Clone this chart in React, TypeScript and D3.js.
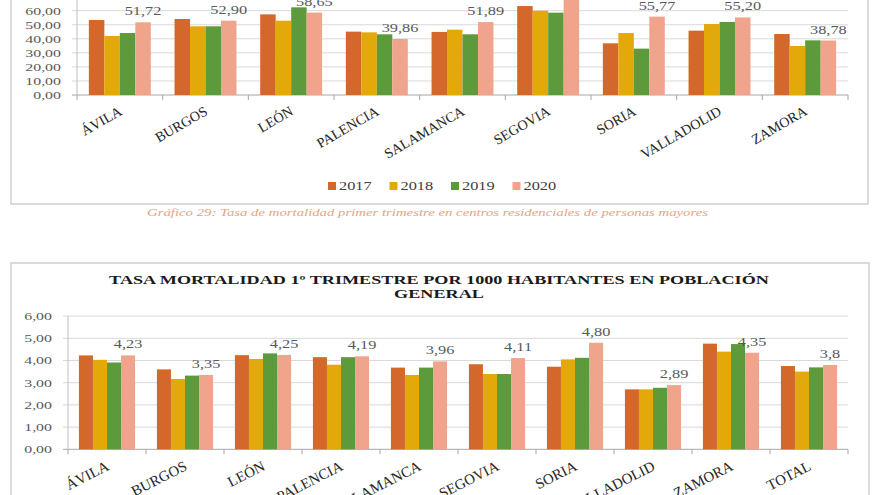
import React from "react";
import * as d3 from "d3";

const years = ["2017", "2018", "2019", "2020"];
const colors = ["#D4682A", "#E3A90A", "#5D9A3C", "#EFA48B"];

const provincesTop = ["ÁVILA", "BURGOS", "LEÓN", "PALENCIA", "SALAMANCA", "SEGOVIA", "SORIA", "VALLADOLID", "ZAMORA"];
const top2017 = [53.4, 54.1, 57.4, 45.1, 44.9, 63.3, 36.8, 45.8, 43.4];
const top2018 = [42.0, 48.9, 52.9, 44.6, 46.5, 60.0, 44.1, 50.5, 34.9];
const top2019 = [44.1, 48.9, 62.4, 43.2, 43.2, 58.6, 33.0, 52.0, 38.9];
const top2020 = [51.72, 52.9, 58.65, 39.86, 51.89, 70.5, 55.77, 55.2, 38.78];
const topLabels = ["51,72", "52,90", "58,65", "39,86", "51,89", "70,50", "55,77", "55,20", "38,78"];
const topTicks = [0, 10, 20, 30, 40, 50, 60];
const topTickLabels = ["0,00", "10,00", "20,00", "30,00", "40,00", "50,00", "60,00"];

const provincesBottom = ["ÁVILA", "BURGOS", "LEÓN", "PALENCIA", "SALAMANCA", "SEGOVIA", "SORIA", "VALLADOLID", "ZAMORA", "TOTAL"];
const bot2017 = [4.23, 3.6, 4.24, 4.15, 3.68, 3.83, 3.72, 2.7, 4.76, 3.75];
const bot2018 = [4.03, 3.17, 4.07, 3.81, 3.35, 3.39, 4.05, 2.7, 4.4, 3.5];
const bot2019 = [3.91, 3.32, 4.32, 4.15, 3.68, 3.39, 4.12, 2.77, 4.74, 3.69];
const bot2020 = [4.23, 3.35, 4.25, 4.19, 3.96, 4.11, 4.8, 2.89, 4.35, 3.8];
const botLabels = ["4,23", "3,35", "4,25", "4,19", "3,96", "4,11", "4,80", "2,89", "4,35", "3,8"];
const botTicks = [0, 1, 2, 3, 4, 5, 6];
const botTickLabels = ["0,00", "1,00", "2,00", "3,00", "4,00", "5,00", "6,00"];

const titleLines = ["TASA MORTALIDAD 1º TRIMESTRE POR 1000 HABITANTES EN POBLACIÓN", "GENERAL"];
const caption = "Gráfico 29: Tasa de mortalidad primer trimestre en centros residenciales de personas mayores";

const SX = 1.42;
const FONT = "'Liberation Serif', 'Times New Roman', serif";
const tf = (x: number, y: number) => `translate(${x},${y}) scale(${SX},1)`;

type ChartProps = {
  cats: string[];
  series: number[][];
  labels: string[];
  ticks: number[];
  tickLabels: string[];
  x0: number;
  x1: number;
  y0: number;
  pxPerUnit: number;
  maxV: number;
  pad: number;
  rot: number;
  catDx: number;
  catDy: number;
  catSize: number;
};

function BarChart({ cats, series, labels, ticks, tickLabels, x0, x1, y0, pxPerUnit, maxV, pad, rot, catDx, catDy, catSize }: ChartProps) {
  const y = d3.scaleLinear().domain([0, maxV]).range([y0, y0 - maxV * pxPerUnit]);
  const x = d3.scaleBand().domain(cats).range([x0, x1]).paddingInner(pad).paddingOuter(pad / 2);
  const xs = d3.scaleBand().domain(years).range([0, x.bandwidth()]);
  const step = x.step();
  return (
    <g>
      {ticks.map((t, i) => (
        <g key={"g" + i}>
          <line x1={x0 - 5} x2={x1} y1={y(t)} y2={y(t)} stroke={t === 0 ? "#a6a6a6" : "#d9d9d9"} strokeWidth={1} />
          <text transform={tf(x0 - 16, y(t))} dy="0.35em" textAnchor="end" fontSize={11.2} fill="#595959" fontFamily={FONT}>
            {tickLabels[i]}
          </text>
        </g>
      ))}
      <line x1={x0} x2={x0} y1={y(maxV)} y2={y0} stroke="#bfbfbf" strokeWidth={1} />
      {d3.range(cats.length + 1).map((i) => (
        <line key={"t" + i} x1={x0 + i * step} x2={x0 + i * step} y1={y0} y2={y0 + 5} stroke="#a6a6a6" strokeWidth={1} />
      ))}
      {cats.map((c, ci) => (
        <g key={c} transform={`translate(${x(c)},0)`}>
          {series.map((s, si) => (
            <rect key={si} x={xs(years[si])} y={y(s[ci])} width={xs.bandwidth()} height={y0 - y(s[ci])} fill={colors[si]} />
          ))}
        </g>
      ))}
      {cats.map((c, ci) => (
        <text
          key={"l" + c}
          transform={tf((x(c) as number) + (xs(years[3]) as number) + xs.bandwidth() / 2, y(series[3][ci]) - 7)}
          textAnchor="middle"
          fontSize={11.5}
          fill="#595959"
          fontFamily={FONT}
        >
          {labels[ci]}
        </text>
      ))}
      {cats.map((c) => (
        <text
          key={"c" + c}
          x={0}
          y={0}
          transform={`translate(${(x(c) as number) + x.bandwidth() / 2 + catDx},${y0 + catDy}) rotate(${rot})`}
          textAnchor="end"
          fontSize={catSize}
          fill="#262626"
          fontFamily={FONT}
        >
          {c}
        </text>
      ))}
    </g>
  );
}

export default function App() {
  return (
    <svg width={880} height={495} style={{ position: "absolute", left: 0, top: 0, background: "#fff" }}>
      <rect x={0} y={0} width={880} height={495} fill="#fff" />
      <rect x={11} y={-10} width={857} height={214} fill="#fff" stroke="#cfcfcf" strokeWidth={1.5} />
      <BarChart
        cats={provincesTop}
        series={[top2017, top2018, top2019, top2020]}
        labels={topLabels}
        ticks={topTicks}
        tickLabels={topTickLabels}
        x0={77}
        x1={848}
        y0={95}
        pxPerUnit={1.405}
        maxV={70}
        pad={0.277}
        rot={-30}
        catDx={3}
        catDy={19}
        catSize={14.2}
      />
      {years.map((yr, i) => (
        <g key={yr} transform={`translate(${328 + i * 61.5},0)`}>
          <rect x={0} y={182} width={8} height={8} fill={colors[i]} />
          <text transform={tf(11, 190)} fontSize={11.5} fill="#404040" fontFamily={FONT}>
            {yr}
          </text>
        </g>
      ))}
      <text x={147} y={216} textLength={561} lengthAdjust="spacingAndGlyphs" fontSize={10.5} fontStyle="italic" fill="#E2A486" fontFamily={FONT}>
        {caption}
      </text>

      <rect x={11} y={263} width={858} height={300} fill="#fff" stroke="#cfcfcf" strokeWidth={1.5} />
      {titleLines.map((t, i) => (
        <text key={t} transform={tf(439, 283.5 + i * 14)} textAnchor="middle" fontSize={12.8} fontWeight="bold" fill="#1a1a1a" fontFamily={FONT}>
          {t}
        </text>
      ))}
      <BarChart
        cats={provincesBottom}
        series={[bot2017, bot2018, bot2019, bot2020]}
        labels={botLabels}
        ticks={botTicks}
        tickLabels={botTickLabels}
        x0={68}
        x1={848}
        y0={449.3}
        pxPerUnit={22.2}
        maxV={6}
        pad={0.28}
        rot={-27}
        catDx={3}
        catDy={20}
        catSize={14.8}
      />
    </svg>
  );
}
